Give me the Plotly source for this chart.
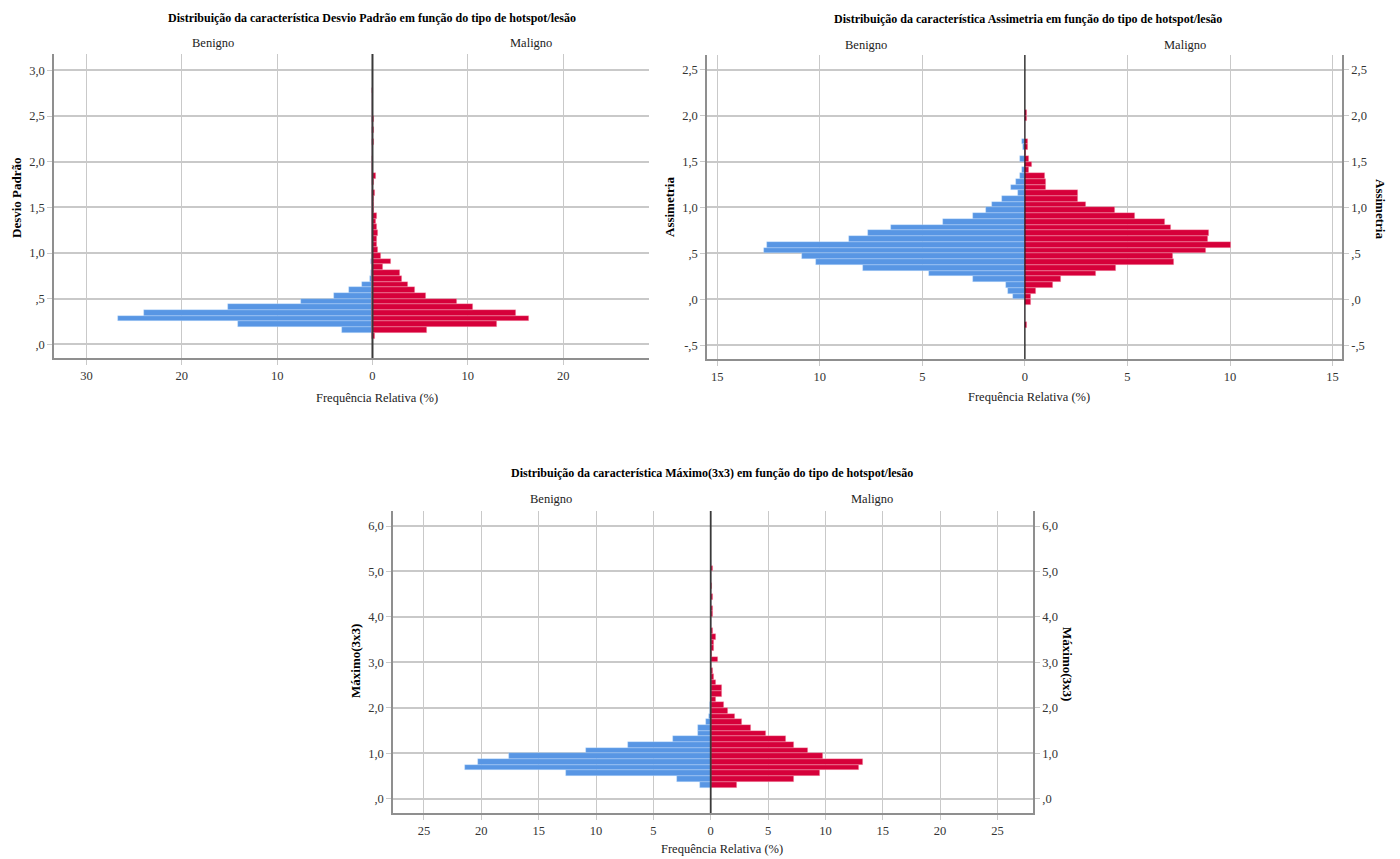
import numpy as np
import plotly.graph_objects as go

# ---------------- data ----------------
# Chart 1: Desvio Padrão (bin width 0.0625, first bin starts at 0.0625)
DP_BIN_START = 0.0625
DP_BIN_WIDTH = 0.0625
DP_BENIGNO = [0.1, 3.2, 14.1, 26.7, 24.0, 15.2, 7.5, 4.0, 2.5, 1.1, 0.3, 0.2, 0.0, 0.2, 0.1,
              0, 0, 0, 0, 0, 0, 0, 0, 0, 0, 0, 0, 0, 0, 0, 0, 0, 0, 0, 0, 0, 0, 0, 0, 0, 0, 0, 0, 0]
DP_MALIGNO = [0.3, 5.7, 13.1, 16.4, 15.0, 10.5, 8.9, 5.6, 4.5, 3.7, 3.1, 2.9, 1.1, 1.9, 0.9,
              0.55, 0.52, 0.45, 0.6, 0.45, 0.38, 0.45, 0.14, 0.12, 0.21, 0.31, 0.0, 0.14, 0.35,
              0.1, 0.1, 0.1, 0, 0, 0.2, 0, 0.12, 0, 0.12, 0, 0, 0, 0, 0.08]
DP_YTICKS = [0.0, 0.5, 1.0, 1.5, 2.0, 2.5, 3.0]
DP_YTEXT = [",0", ",5", "1,0", "1,5", "2,0", "2,5", "3,0"]
DP_XTICKS = [-30, -20, -10, 0, 10, 20]

# Chart 2: Assimetria (bin width 0.0625, first bin starts at -0.3125)
AS_BIN_START = -0.3125
AS_BIN_WIDTH = 0.0625
AS_BENIGNO = [0, 0, 0, 0, 0, 0.58, 0.81, 0.93, 2.52, 4.7, 7.9, 10.17, 10.86, 12.7, 12.57,
              8.6, 7.65, 6.52, 3.99, 2.52, 1.92, 1.6, 1.12, 0.34, 0.68, 0.45, 0.24, 0.13,
              0, 0.24, 0, 0.08, 0.13, 0, 0, 0, 0, 0]
AS_MALIGNO = [0.1, 0, 0, 0, 0.3, 0.3, 0.53, 1.36, 1.78, 3.47, 4.44, 7.29, 7.2, 8.82, 10.05,
              8.91, 8.98, 7.13, 6.83, 5.35, 4.38, 2.99, 2.6, 2.6, 1.04, 1.04, 0.96, 0.2,
              0.36, 0.2, 0.06, 0.13, 0.13, 0, 0, 0, 0.1, 0.1]
AS_YTICKS = [-0.5, 0.0, 0.5, 1.0, 1.5, 2.0, 2.5]
AS_YTEXT = ["-,5", ",0", ",5", "1,0", "1,5", "2,0", "2,5"]
AS_XTICKS = [-15, -10, -5, 0, 5, 10, 15]

# Chart 3: Máximo(3x3) (bin width 0.125, first bin starts at 0.25)
MX_BIN_START = 0.25
MX_BIN_WIDTH = 0.125
MX_BENIGNO = [0.9, 2.9, 12.6, 21.4, 20.3, 17.6, 10.9, 7.2, 3.3, 1.1, 1.1, 0.4, 0.15, 0.1,
              0.08, 0, 0, 0, 0, 0, 0, 0, 0, 0, 0, 0, 0, 0, 0, 0, 0, 0, 0, 0, 0, 0, 0, 0, 0, 0]
MX_MALIGNO = [2.3, 7.27, 9.5, 12.9, 13.3, 9.8, 8.5, 7.27, 6.6, 4.8, 3.5, 2.7, 2.1, 1.55,
              1.2, 0.45, 1.0, 1.0, 0.45, 0.33, 0.2, 0, 0.63, 0.15, 0.25, 0.32, 0.48, 0.17,
              0, 0, 0.22, 0.22, 0, 0.17, 0, 0.08, 0, 0, 0.17]
MX_YTICKS = [0.0, 1.0, 2.0, 3.0, 4.0, 5.0, 6.0]
MX_YTEXT = [",0", "1,0", "2,0", "3,0", "4,0", "5,0", "6,0"]
MX_XTICKS = [-25, -20, -15, -10, -5, 0, 5, 10, 15, 20, 25]

GROUPS = ["Benigno", "Maligno"]
X_TITLE = "Frequência Relativa (%)"
TITLES = ["Distribuição da característica Desvio Padrão em função do tipo de hotspot/lesão",
          "Distribuição da característica Assimetria em função do tipo de hotspot/lesão",
          "Distribuição da característica Máximo(3x3) em função do tipo de hotspot/lesão"]
Y_TITLES = ["Desvio Padrão", "Assimetria", "Máximo(3x3)"]

# ---------------- style ----------------
FONT = "Liberation Serif"
BLUE = "#5896e4"
RED = "#d6003a"
GRID = "#c9c9c9"
AXLINE = "#8f8f8f"
TICKFONT = dict(family=FONT, size=12.5, color="#333333")

fig = go.Figure()


def add_pyramid(idx, start, width, benigno, maligno):
    xa = "x" if idx == 1 else f"x{idx}"
    ya = "y" if idx == 1 else f"y{idx}"
    n = max(len(benigno), len(maligno))
    centers = start + width * (np.arange(n) + 0.5)
    b = np.array(benigno + [0] * (n - len(benigno)), dtype=float)
    m = np.array(maligno + [0] * (n - len(maligno)), dtype=float)
    fig.add_trace(go.Bar(y=centers, x=-b, orientation="h", width=width,
                         marker=dict(color=BLUE, line=dict(color="rgba(200,225,255,0.6)", width=0.6)),
                         name=GROUPS[0], xaxis=xa, yaxis=ya, showlegend=False))
    fig.add_trace(go.Bar(y=centers, x=m, orientation="h", width=width,
                         marker=dict(color=RED, line=dict(color="rgba(255,200,210,0.6)", width=0.6)),
                         name=GROUPS[1], xaxis=xa, yaxis=ya, showlegend=False))


add_pyramid(1, DP_BIN_START, DP_BIN_WIDTH, DP_BENIGNO, DP_MALIGNO)
add_pyramid(2, AS_BIN_START, AS_BIN_WIDTH, AS_BENIGNO, AS_MALIGNO)
add_pyramid(3, MX_BIN_START, MX_BIN_WIDTH, MX_BENIGNO, MX_MALIGNO)

# invisible anchors for right-side axes
fig.add_trace(go.Scatter(x=[0], y=[0], xaxis="x2", yaxis="y4", mode="markers",
                         marker=dict(opacity=0), hoverinfo="skip", showlegend=False))
fig.add_trace(go.Scatter(x=[0], y=[0], xaxis="x3", yaxis="y5", mode="markers",
                         marker=dict(opacity=0), hoverinfo="skip", showlegend=False))


def xaxis(domain, rng, ticks, anchor):
    return dict(domain=domain, range=rng, anchor=anchor, tickvals=ticks,
                ticktext=[str(abs(t)) for t in ticks], showgrid=True, gridcolor=GRID,
                gridwidth=1, zeroline=False, showline=True, linecolor=AXLINE, linewidth=1.5,
                ticks="outside", ticklen=5, tickcolor=GRID, tickfont=TICKFONT, fixedrange=True)


def yaxis(domain, rng, ticks, text, anchor, side="left", overlay=None, grid=True):
    d = dict(domain=domain, range=rng, anchor=anchor, tickvals=ticks, ticktext=text,
             showgrid=grid, gridcolor=GRID, gridwidth=2, zeroline=False, showline=True,
             linecolor=AXLINE, linewidth=1.5, ticks="outside", ticklen=5, tickcolor=GRID,
             tickfont=TICKFONT, side=side, fixedrange=True)
    if overlay:
        d["overlaying"] = overlay
    return d


D1x, D1y = [54 / 1400, 649 / 1400], [1 - 358 / 859, 1 - 54 / 859]
D2x, D2y = [707 / 1400, 1342 / 1400], [1 - 359 / 859, 1 - 55 / 859]
D3x, D3y = [393 / 1400, 1033 / 1400], [1 - 813 / 859, 1 - 511 / 859]

R1y, R2y, R3y = [-0.15, 3.18], [-0.65, 2.66], [-0.31, 6.33]

fig.update_layout(
    width=1400, height=859, margin=dict(l=0, r=0, t=0, b=0),
    paper_bgcolor="white", plot_bgcolor="white", barmode="overlay", bargap=0,
    font=dict(family=FONT, size=12, color="#000000"),
    xaxis=xaxis(D1x, [-33.4, 29.0], DP_XTICKS, "y"),
    yaxis=yaxis(D1y, R1y, DP_YTICKS, DP_YTEXT, "x"),
    xaxis2=xaxis(D2x, [-15.5, 15.46], AS_XTICKS, "y2"),
    yaxis2=yaxis(D2y, R2y, AS_YTICKS, AS_YTEXT, "x2"),
    xaxis3=xaxis(D3x, [-27.7, 28.1], MX_XTICKS, "y3"),
    yaxis3=yaxis(D3y, R3y, MX_YTICKS, MX_YTEXT, "x3"),
    yaxis4=yaxis(D2y, R2y, AS_YTICKS, AS_YTEXT, "x2", side="right", overlay="y2", grid=False),
    yaxis5=yaxis(D3y, R3y, MX_YTICKS, MX_YTEXT, "x3", side="right", overlay="y3", grid=False),
)

# zero lines above bars
for xr, yr, col, w in [("x", "y domain", "#3a3a3a", 2), ("x2", "y2 domain", "#111111", 1.2),
                       ("x3", "y3 domain", "#3a3a3a", 1.8)]:
    fig.add_shape(type="line", xref=xr, yref=yr, x0=0, x1=0, y0=0, y1=1,
                  line=dict(color=col, width=w), layer="above")

ann = []
TITLE_FONT = dict(family=FONT, size=12, color="#000000")
LABEL_FONT = dict(family=FONT, size=12.5, color="#222222")


def A(x, y, text, font, angle=0):
    ann.append(dict(x=x / 1400, y=1 - y / 859, xref="paper", yref="paper", text=text,
                    showarrow=False, font=font, textangle=angle, xanchor="center",
                    yanchor="middle"))


# titles
A(372, 18, "<b>" + TITLES[0] + "</b>", TITLE_FONT)
A(1028, 19, "<b>" + TITLES[1] + "</b>", TITLE_FONT)
A(712, 473, "<b>" + TITLES[2] + "</b>", TITLE_FONT)
# group labels
A(213, 43, GROUPS[0], LABEL_FONT); A(531, 43, GROUPS[1], LABEL_FONT)
A(866, 45, GROUPS[0], LABEL_FONT); A(1185, 45, GROUPS[1], LABEL_FONT)
A(551, 499, GROUPS[0], LABEL_FONT); A(872, 499, GROUPS[1], LABEL_FONT)
# x titles
A(377, 398, X_TITLE, LABEL_FONT)
A(1029, 397, X_TITLE, LABEL_FONT)
A(722, 849, X_TITLE, LABEL_FONT)
# y titles
YT_FONT = dict(family=FONT, size=13, color="#000000")
A(16, 198, "<b>" + Y_TITLES[0] + "</b>", YT_FONT, -90)
A(669, 207, "<b>" + Y_TITLES[1] + "</b>", YT_FONT, -90)
A(1381, 209, "<b>" + Y_TITLES[1] + "</b>", YT_FONT, 90)
A(355, 661, "<b>" + Y_TITLES[2] + "</b>", YT_FONT, -90)
A(1068, 664, "<b>" + Y_TITLES[2] + "</b>", YT_FONT, 90)

fig.update_layout(annotations=ann)
fig.write_html("out.html")
